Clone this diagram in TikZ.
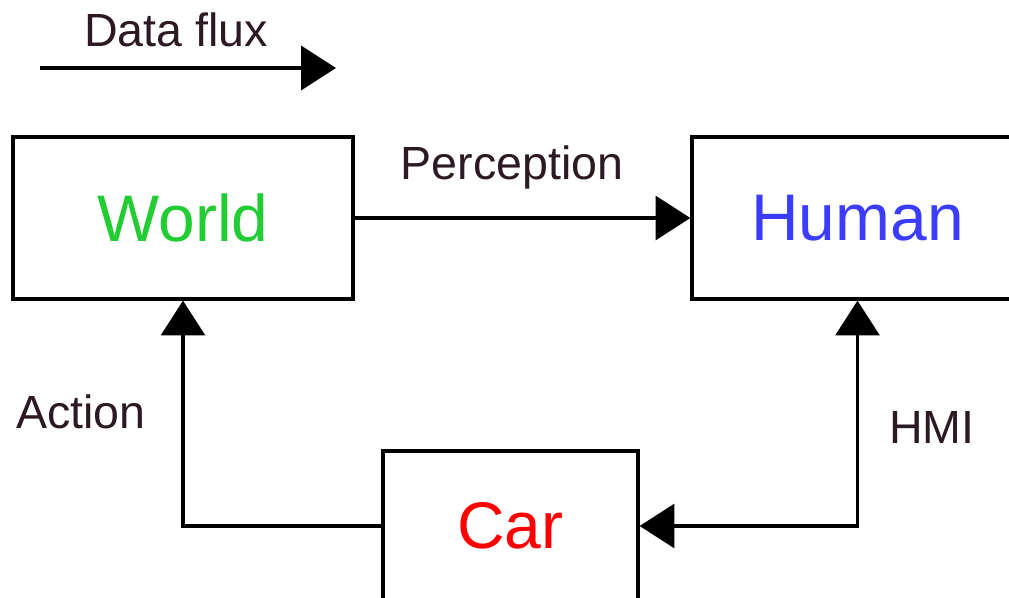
\documentclass[tikz,border=0pt]{standalone}
\usepackage{fontspec}
\setmainfont{Liberation Sans}
\usetikzlibrary{arrows.meta}
\definecolor{worldgreen}{RGB}{34,204,51}
\definecolor{humanblue}{RGB}{60,60,255}
\definecolor{carred}{RGB}{255,0,0}
\definecolor{labeldark}{RGB}{45,25,35}
\begin{document}
\begin{tikzpicture}[x=0.02cm,y=-0.02cm,
  box/.style={draw=black,line width=1.9pt,inner sep=0pt,font=\fontsize{37.5}{40}\selectfont},
  lbl/.style={text=labeldark,inner sep=0pt,font=\fontsize{26.5}{30}\selectfont},
  flow/.style={line width=1.9pt,-{Triangle[length=19.8pt,width=25pt]}},
  flowboth/.style={line width=1.9pt,{Triangle[length=19.8pt,width=25pt]}-{Triangle[length=19.8pt,width=25pt]}}]
\useasboundingbox (0,0) rectangle (1009,598);
\clip (0,0) rectangle (1009,598);
\node[box,minimum width=6.8cm,minimum height=3.24cm,text=worldgreen] (world) at (183,218) {World};
\node[box,minimum width=6.62cm,minimum height=3.24cm,text=humanblue] (human) at (857.5,218) {Human};
\node[box,minimum width=5.1cm,minimum height=3cm,text=carred] (car) at (510.5,526) {Car};
\coordinate (fa) at (40,68);
\coordinate (fb) at (336,68);
\draw[flow] (fa) -- (fb);
\node[lbl] (dflux) at (176,30) {Data flux};
\draw[flow] (world.east) -- (human.west);
\node[lbl] (perc) at (512,167) {Perception};
\draw[flow] (car.west) -| (world.south);
\node[lbl] (act) at (81,412) {Action};
\draw[flowboth] (human.south) |- (car.east);
\node[lbl] (hmi) at (932,427) {HMI};
\end{tikzpicture}
\end{document}
